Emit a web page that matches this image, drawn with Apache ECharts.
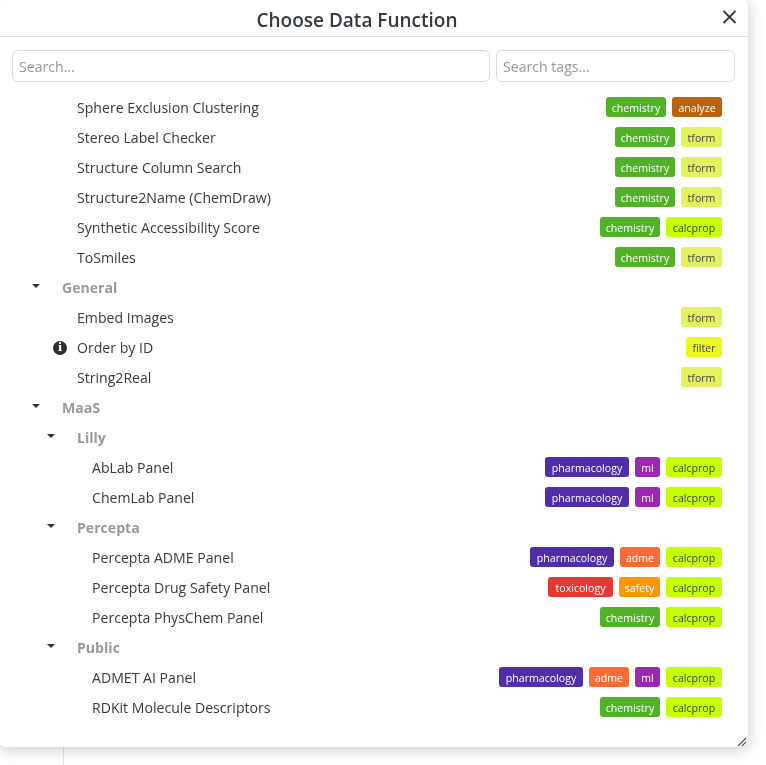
<!DOCTYPE html>
<html>

<head>
  <meta charset="utf-8">
  <title>Choose Data Function</title>
  <style>
    html, body { margin: 0; padding: 0; background: #fff; }
    #main { width: 766px; height: 765px; }
  </style>
</head>

<body>
  <div id="main"></div>
  <script src="https://cdn.jsdelivr.net/npm/echarts@6/dist/echarts.min.js"></script>
  <script>
    const rowNames = [
      'Sphere Exclusion Clustering', 'Stereo Label Checker', 'Structure Column Search',
      'Structure2Name (ChemDraw)', 'Synthetic Accessibility Score', 'ToSmiles',
      'General', 'Embed Images', 'Order by ID', 'String2Real',
      'MaaS', 'Lilly', 'AbLab Panel', 'ChemLab Panel',
      'Percepta', 'Percepta ADME Panel', 'Percepta Drug Safety Panel', 'Percepta PhysChem Panel',
      'Public', 'ADMET AI Panel', 'RDKit Molecule Descriptors'
    ];
    // indent of each row in the tree, 0 = top group
    const rowDepths = [1, 1, 1, 1, 1, 1, 0, 1, 1, 1, 0, 1, 2, 2, 1, 2, 2, 2, 1, 2, 2];
    const rowIsGroup = [0, 0, 0, 0, 0, 0, 1, 0, 0, 0, 1, 1, 0, 0, 1, 0, 0, 0, 1, 0, 0];
    const rowHasInfo = [0, 0, 0, 0, 0, 0, 0, 0, 1, 0, 0, 0, 0, 0, 0, 0, 0, 0, 0, 0, 0];
    const rowTags = [
      ['chemistry', 'analyze'], ['chemistry', 'tform'], ['chemistry', 'tform'],
      ['chemistry', 'tform'], ['chemistry', 'calcprop'], ['chemistry', 'tform'],
      [], ['tform'], ['filter'], ['tform'],
      [], [], ['pharmacology', 'ml', 'calcprop'], ['pharmacology', 'ml', 'calcprop'],
      [], ['pharmacology', 'adme', 'calcprop'], ['toxicology', 'safety', 'calcprop'], ['chemistry', 'calcprop'],
      [], ['pharmacology', 'adme', 'ml', 'calcprop'], ['chemistry', 'calcprop']
    ];
    const tagWidths = {
      chemistry: 60, analyze: 50, tform: 41, calcprop: 56, filter: 36,
      pharmacology: 84, ml: 25, adme: 40, toxicology: 65, safety: 41
    };
    const tagColors = {
      chemistry: '#52b029', analyze: '#b9640d', tform: '#e4f160', calcprop: '#c6ff00', filter: '#eef91f',
      pharmacology: '#512da8', ml: '#9c27b0', adme: '#ff6b35', toxicology: '#e53935', safety: '#ff9800'
    };
    const tagTextColors = {
      chemistry: '#fff', analyze: '#fff', tform: '#444', calcprop: '#444', filter: '#444',
      pharmacology: '#fff', ml: '#fff', adme: '#fff', toxicology: '#fff', safety: '#fff'
    };

    const FONT = '"Open Sans", sans-serif';
    const TAGS_RIGHT = 722;
    const TAG_GAP = 6;

    // lay the tags out from the right edge of each row
    const tagData = [];
    rowTags.forEach(function (tags, row) {
      let right = TAGS_RIGHT;
      for (let i = tags.length - 1; i >= 0; i--) {
        const left = right - tagWidths[tags[i]];
        tagData.push({ value: [left, row, tagWidths[tags[i]]], tag: tags[i] });
        right = left - TAG_GAP;
      }
    });

    const rowData = rowNames.map(function (name, i) {
      return { value: [62 + rowDepths[i] * 15, i], name: name };
    });

    const chart = echarts.init(document.getElementById('main'));

    function searchBox(x, w, text) {
      return {
        type: 'rect',
        shape: { x: x + 0.5, y: 50.5, width: w, height: 31, r: 5 },
        style: { fill: '#fff', stroke: '#dcdcdc', lineWidth: 1 },
        textContent: {
          style: { text: text, fill: '#999', font: '14.1px ' + FONT }
        },
        textConfig: { position: 'insideLeft', distance: 7, offset: [0, 1.5] }
      };
    }

    chart.setOption({
      animation: false,
      title: {
        text: 'Choose Data Function',
        left: 352,
        top: 7,
        textAlign: 'center',
        textStyle: { fontFamily: FONT, fontSize: 19, fontWeight: 600, color: '#343a40' }
      },
      grid: { left: 0, right: 0, top: 92, height: 630 },
      xAxis: { type: 'value', min: 0, max: 766, show: false },
      yAxis: { type: 'category', inverse: true, data: rowNames, show: false },
      graphic: [
        { type: 'line', z: -2, shape: { x1: 63.5, y1: 740, x2: 63.5, y2: 765 }, style: { stroke: '#e3e3e3', lineWidth: 1 } },
        {
          type: 'rect', z: -1,
          shape: { x: -1, y: -1, width: 749, height: 748, r: 7 },
          style: { fill: '#fff', shadowBlur: 16, shadowColor: 'rgba(0,0,0,0.22)', shadowOffsetY: 2 }
        },
        { type: 'line', shape: { x1: 0, y1: 36.5, x2: 748, y2: 36.5 }, style: { stroke: '#dee2e6', lineWidth: 1 } },
        searchBox(12, 477, 'Search...'),
        searchBox(496, 238, 'Search tags...'),
        // close button
        { type: 'line', shape: { x1: 723.5, y1: 11, x2: 735.5, y2: 23 }, style: { stroke: '#343a40', lineWidth: 1.8 } },
        { type: 'line', shape: { x1: 735.5, y1: 11, x2: 723.5, y2: 23 }, style: { stroke: '#343a40', lineWidth: 1.8 } },
        // resize handle
        { type: 'line', shape: { x1: 738, y1: 746, x2: 746, y2: 738 }, style: { stroke: '#555', lineWidth: 1.2 } },
        { type: 'line', shape: { x1: 742, y1: 746, x2: 746, y2: 742 }, style: { stroke: '#555', lineWidth: 1.2 } }
      ],
      series: [
        {
          type: 'custom',
          coordinateSystem: 'cartesian2d',
          silent: true,
          clip: false,
          data: rowData,
          renderItem: function (params, api) {
            const i = params.dataIndex;
            const p = api.coord([api.value(0), api.value(1)]);
            const children = [{
              type: 'text',
              style: {
                x: p[0], y: p[1] + 2,
                text: rowNames[i],
                verticalAlign: 'middle',
                fill: rowIsGroup[i] ? '#9a9a9a' : '#3a3a3a',
                font: (rowIsGroup[i] ? '700 ' : '') + '14.1px ' + FONT
              }
            }];
            if (rowIsGroup[i]) {
              const cx = p[0] - 26;
              children.push({
                type: 'polygon',
                shape: { points: [[cx - 4, p[1] - 3], [cx + 4, p[1] - 3], [cx, p[1] + 1]] },
                style: { fill: '#333' }
              });
            }
            if (rowHasInfo[i]) {
              children.push({ type: 'circle', shape: { cx: p[0] - 17, cy: p[1] + 1, r: 7 }, style: { fill: '#2f2f2f' } });
              children.push({
                type: 'text',
                style: {
                  x: p[0] - 17, y: p[1] + 1.5, text: 'i', align: 'center', verticalAlign: 'middle',
                  fill: '#fff', font: 'bold 11px "DejaVu Serif", serif'
                }
              });
            }
            return { type: 'group', children: children };
          }
        },
        {
          type: 'custom',
          coordinateSystem: 'cartesian2d',
          silent: true,
          clip: false,
          data: tagData,
          renderItem: function (params, api) {
            const tag = tagData[params.dataIndex].tag;
            const p = api.coord([api.value(0), api.value(1)]);
            const w = api.size([api.value(2), 0])[0];
            return {
              type: 'group',
              children: [{
                type: 'rect',
                shape: { x: p[0], y: p[1] - 10, width: w, height: 20, r: 3 },
                style: { fill: tagColors[tag] }
              }, {
                type: 'text',
                style: {
                  x: p[0] + w / 2, y: p[1] + 1.5,
                  text: tag, align: 'center', verticalAlign: 'middle',
                  fill: tagTextColors[tag], font: '10.6px ' + FONT
                }
              }]
            };
          }
        }
      ]
    });
  </script>
</body>

</html>
